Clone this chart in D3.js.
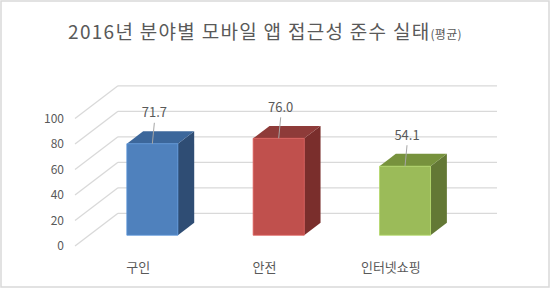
<!DOCTYPE html>
<html>
<head>
<meta charset="utf-8">
<script src="https://cdn.jsdelivr.net/npm/d3@7"></script>
<style>
  body { margin: 0; background: #fff; }
  text { font-family: "Noto Sans CJK KR", "Noto Sans", sans-serif; fill: #595959; }
</style>
</head>
<body>
<svg id="chart" width="550" height="292"></svg>
<script>
let categories = ["구인", "안전", "인터넷쇼핑"];
let values = [71.7, 76.0, 54.1];
let ticks = [0, 20, 40, 60, 80, 100];
let fronts = ["#4f81bd", "#c0504d", "#9bbb59"];
let tops = ["#3c679b", "#8e3b39", "#77923d"];
let sides = ["#2f4d74", "#7a2e2c", "#637835"];

let svg = d3.select("#chart");

// depth of the 3d box and of the bars inside it
const depthX = 43, depthY = -32.7;
const z0 = 0.33, z1 = 0.71;

svg.append("rect").
attr("x", 1).attr("y", 1).
attr("width", 548).attr("height", 286).
attr("fill", "#fff").
attr("stroke", "#d9d9d9").
attr("stroke-width", 1.5);

let title = svg.append("text").
attr("x", 265).
attr("y", 39).
attr("text-anchor", "middle").
style("font-size", "19px").
style("letter-spacing", "1.3px");
title.append("tspan").text("2016년 분야별 모바일 앱 접근성 준수 실태");
title.append("tspan").style("font-size", "12px").style("letter-spacing", "0.3px").text("(평균)");

let x = d3.scaleBand().
domain(categories).
range([75, 454]).
paddingInner(0.596).
paddingOuter(0.298);

let y = d3.scaleLinear().
domain([0, 100]).
range([246, 118.5]);

// walls: diagonal side lines and back gridlines
let grid = svg.append("g");
grid.selectAll("line.side").
data(ticks).
enter().append("line").
attr("x1", 75).
attr("y1", d => y(d)).
attr("x2", 75 + depthX).
attr("y2", d => y(d) + depthY);
grid.selectAll("line.back").
data(ticks).
enter().append("line").
attr("x1", 75 + depthX).
attr("y1", d => y(d) + depthY).
attr("x2", 454 + depthX).
attr("y2", d => y(d) + depthY);
grid.selectAll("line").
attr("stroke", "#d9d9d9").
attr("stroke-width", 1.3);

svg.append("g").
selectAll("text").
data(ticks).
enter().append("text").
attr("x", 64).
attr("y", d => y(d)).
attr("dy", "0.35em").
attr("text-anchor", "end").
style("font-size", "12px").
text(d => d);

let bars = svg.append("g").
selectAll("g").
data(values).
enter().append("g");

function pt(px, py, z) {
  return [px + z * depthX, py + z * depthY];
}

bars.each(function (d, i) {
  let g = d3.select(this);
  let xl = x(categories[i]), xr = xl + x.bandwidth();
  let yb = y(0), yt = y(d);
  let front = [pt(xl, yb, z0), pt(xr, yb, z0), pt(xr, yt, z0), pt(xl, yt, z0)];
  let side = [pt(xr, yb, z0), pt(xr, yb, z1), pt(xr, yt, z1), pt(xr, yt, z0)];
  let top = [pt(xl, yt, z0), pt(xr, yt, z0), pt(xr, yt, z1), pt(xl, yt, z1)];
  g.append("polygon").attr("points", side.join(" ")).attr("fill", sides[i]);
  g.append("polygon").attr("points", top.join(" ")).attr("fill", tops[i]);
  g.append("polygon").attr("points", front.join(" ")).attr("fill", fronts[i]).
  attr("stroke", d3.color(fronts[i]).brighter(0.4)).attr("stroke-width", 0.8);

  let c = pt(xl + x.bandwidth() / 2, yt, z0);
  g.append("line").
  attr("x1", c[0] + 2).attr("y1", c[1] - 21).
  attr("x2", c[0]).attr("y2", c[1]).
  attr("stroke", "#a6a6a6").attr("stroke-width", 1);
  g.append("text").
  attr("x", c[0] + 2).
  attr("y", c[1] - 31).
  attr("dy", "0.35em").
  attr("text-anchor", "middle").
  style("font-size", "13px").
  text(d.toFixed(1));
});

svg.append("g").
selectAll("text").
data(categories).
enter().append("text").
attr("x", d => x(d) + x.bandwidth() / 2).
attr("y", 267).
attr("dy", "0.35em").
attr("text-anchor", "middle").
style("font-size", "13px").
text(d => d);
</script>
</body>
</html>
